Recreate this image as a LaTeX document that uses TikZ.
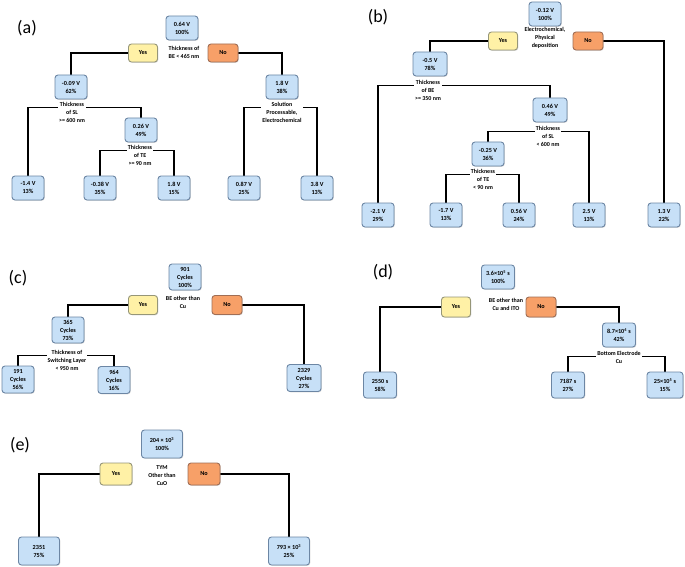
\documentclass[tikz,border=0pt]{standalone}
\usepackage{fontspec}
\setmainfont{Carlito}
\usepackage{tikz}
\usetikzlibrary{backgrounds}
\usetikzlibrary{shadows}
\definecolor{boxblue}{RGB}{199,224,247}
\definecolor{boxedge}{RGB}{108,134,164}
\definecolor{yesfill}{RGB}{255,241,166}
\definecolor{yesedge}{RGB}{150,150,120}
\definecolor{nofill}{RGB}{247,160,104}
\definecolor{noedge}{RGB}{160,110,85}

\begin{document}
\begin{tikzpicture}[x=1pt, y=-1pt,
	leaf/.style={draw=boxedge, fill=boxblue, rounded corners=3pt, line width=0.9pt, minimum width=32pt, minimum height=24pt, inner sep=1pt, align=center, font=\fontsize{6.2}{8}\selectfont\bfseries, drop shadow={opacity=0.3, shadow xshift=0.8pt, shadow yshift=-0.8pt}},
	yesbox/.style={leaf, draw=yesedge, fill=yesfill, minimum width=29pt, minimum height=18pt},
	nobox/.style={leaf, draw=noedge, fill=nofill, minimum width=30pt, minimum height=18pt},
	cond/.style={inner sep=1pt, align=center, font=\fontsize{6}{8}\selectfont\bfseries},
	splitcond/.style={cond, fill=white, anchor=north},
	tag/.style={font=\fontsize{18}{20}\selectfont},
	wire/.style={line width=1.3pt}]
				\useasboundingbox (0, 0) rectangle (685, 567);
				% (a) voltage tree:
				\node[tag](Ta) at (27, 28){(a)};
				\node[leaf](A0) at (182, 28){0.64 V\\100\%};
				\node[yesbox](AY) at (143, 53){Yes};
				\node[nobox](AN) at (223, 53){No};
				\node[cond](AC0) at (184, 52.5){Thickness of\\BE < 465 nm};
				\node[leaf](A1) at (71, 87){-0.09 V\\62\%};
				\node[leaf](A2) at (282, 87){1.8 V\\38\%};
				\node[splitcond](AC1) at (72, 101.5){Thickness\\of SL\\>= 600 nm};
				\node[splitcond](AC2) at (282, 101.5){Solution\\Processable,\\Electrochemical};
				\node[leaf](A4) at (141, 130){0.26 V\\49\%};
				\node[splitcond](AC4) at (140, 144.5){Thickness\\of TE\\>= 90 nm};
				\node[leaf](A3) at (28, 188){-1.4 V\\13\%};
				\node[leaf](A5) at (100, 188){-0.38 V\\35\%};
				\node[leaf](A6) at (174, 188){1.8 V\\15\%};
				\node[leaf](A7) at (244, 188){0.87 V\\25\%};
				\node[leaf](A8) at (317, 188){3.8 V\\13\%};
				% (b) voltage tree:
				\node[tag](Tb) at (378, 17){(b)};
				\node[leaf](B0) at (545, 14){-0.12 V\\100\%};
				\node[cond](BC0) at (545, 38){Electrochemical,\\Physical\\deposition};
				\node[yesbox](BY) at (503, 41){Yes};
				\node[nobox](BN) at (588, 41){No};
				\node[leaf, minimum width=34pt](B1) at (430, 64){-0.5 V\\78\%};
				\node[splitcond](BC1) at (428, 79.5){Thickness\\of BE\\>= 350 nm};
				\node[leaf, minimum width=34pt](B2) at (550, 110){0.46 V\\49\%};
				\node[splitcond](BC2) at (548, 125.5){Thickness\\of SL\\< 600 nm};
				\node[leaf](B4) at (488, 154){-0.25 V\\36\%};
				\node[splitcond](BC4) at (483, 168.5){Thickness\\of TE\\< 90 nm};
				\node[leaf](B3) at (378, 215){-2.1 V\\29\%};
				\node[leaf](B5) at (446, 215){-1.7 V\\13\%};
				\node[leaf](B6) at (519, 215){0.56 V\\24\%};
				\node[leaf](B7) at (589, 215){2.5 V\\13\%};
				\node[leaf](B8) at (664, 215){1.3 V\\22\%};
				% (c) cycles tree:
				\node[tag](Tc) at (18, 278){(c)};
				\node[leaf, minimum height=26pt](C0) at (185, 277){901\\Cycles\\100\%};
				\node[cond](CC0) at (183, 302.5){BE other than\\Cu};
				\node[yesbox, minimum height=19pt](CY) at (143, 305){Yes};
				\node[nobox, minimum height=19pt](CN) at (227, 305){No};
				\node[leaf, minimum height=26pt](C1) at (68, 330){365\\Cycles\\73\%};
				\node[splitcond](CC1) at (67, 349.5){Thickness of\\Switching Layer\\< 950 nm};
				\node[leaf, minimum height=27pt](C2) at (18, 379.5){191\\Cycles\\56\%};
				\node[leaf, minimum height=27pt](C3) at (114, 380){964\\Cycles\\16\%};
				\node[leaf, minimum height=27pt, minimum width=34pt](C4) at (304, 378){2329\\Cycles\\27\%};
				% (d) retention tree:
				\node[tag](Td) at (383, 272){(d)};
				\node[leaf, minimum width=33pt](D0) at (498, 277){3.6×10\textsuperscript{5} s\\100\%};
				\node[cond](DC0) at (506, 304.5){BE other than\\Cu and ITO};
				\node[yesbox, minimum height=20pt](DY) at (456, 307){Yes};
				\node[nobox, minimum height=20pt](DN) at (541, 307){No};
				\node[leaf, minimum width=33pt](D2) at (619, 335){8.7×10\textsuperscript{4} s\\42\%};
				\node[splitcond](DC2) at (619, 350.5){Bottom Electrode\\Cu};
				\node[leaf, minimum width=33pt, minimum height=26pt](D1) at (380, 385){2550 s\\58\%};
				\node[leaf, minimum width=33pt, minimum height=26pt](D3) at (568, 385){7187 s\\27\%};
				\node[leaf, minimum width=36pt, minimum height=26pt](D4) at (665, 385){25×10\textsuperscript{5} s\\15\%};
				% (e) tree:
				\node[tag](Te) at (20, 445){(e)};
				\node[leaf, minimum width=41pt, minimum height=28pt](E0) at (162, 444){204 × 10\textsuperscript{3}\\100\%};
				\node[cond](EC0) at (162, 476){TYM\\Other than\\CuO};
				\node[yesbox, minimum width=32pt, minimum height=22pt](EY) at (116, 474){Yes};
				\node[nobox, minimum width=32pt, minimum height=22pt](EN) at (204, 474){No};
				\node[leaf, minimum width=41pt, minimum height=28pt](E1) at (39, 551){2351\\75\%};
				\node[leaf, minimum width=41pt, minimum height=28pt](E2) at (289, 551){793 × 10\textsuperscript{3}\\25\%};
				% Branches:
				\begin{scope}[on background layer]
					\draw[wire] (AY.west) -| (A1.north);
					\draw[wire] (AN.east) -| (A2.north);
					\draw[wire] (A3.north) |- ([yshift=-6.3pt]AC1.north) -| (A4.north);
					\draw[wire] (A5.north) |- ([yshift=-6.3pt]AC4.north) -| (A6.north);
					\draw[wire] (A7.north) |- ([yshift=-6.3pt]AC2.north) -| (A8.north);
					\draw[wire] (BY.west) -| (B1.north);
					\draw[wire] (BN.east) -| (B8.north);
					\draw[wire] (B3.north) |- ([yshift=-6.3pt]BC1.north) -| (B2.north);
					\draw[wire] (B4.north) |- ([yshift=-6.3pt]BC2.north) -| (B7.north);
					\draw[wire] (B5.north) |- ([yshift=-6.3pt]BC4.north) -| (B6.north);
					\draw[wire] (CY.west) -| (C1.north);
					\draw[wire] (CN.east) -| (C4.north);
					\draw[wire] (C2.north) |- ([yshift=-6.3pt]CC1.north) -| (C3.north);
					\draw[wire] (DY.west) -| (D1.north);
					\draw[wire] (DN.east) -| (D2.north);
					\draw[wire] (D3.north) |- ([yshift=-6.3pt]DC2.north) -| (D4.north);
					\draw[wire] (EY.west) -| (E1.north);
					\draw[wire] (EN.east) -| (E2.north);
				\end{scope}
			\end{tikzpicture}
\end{document}
